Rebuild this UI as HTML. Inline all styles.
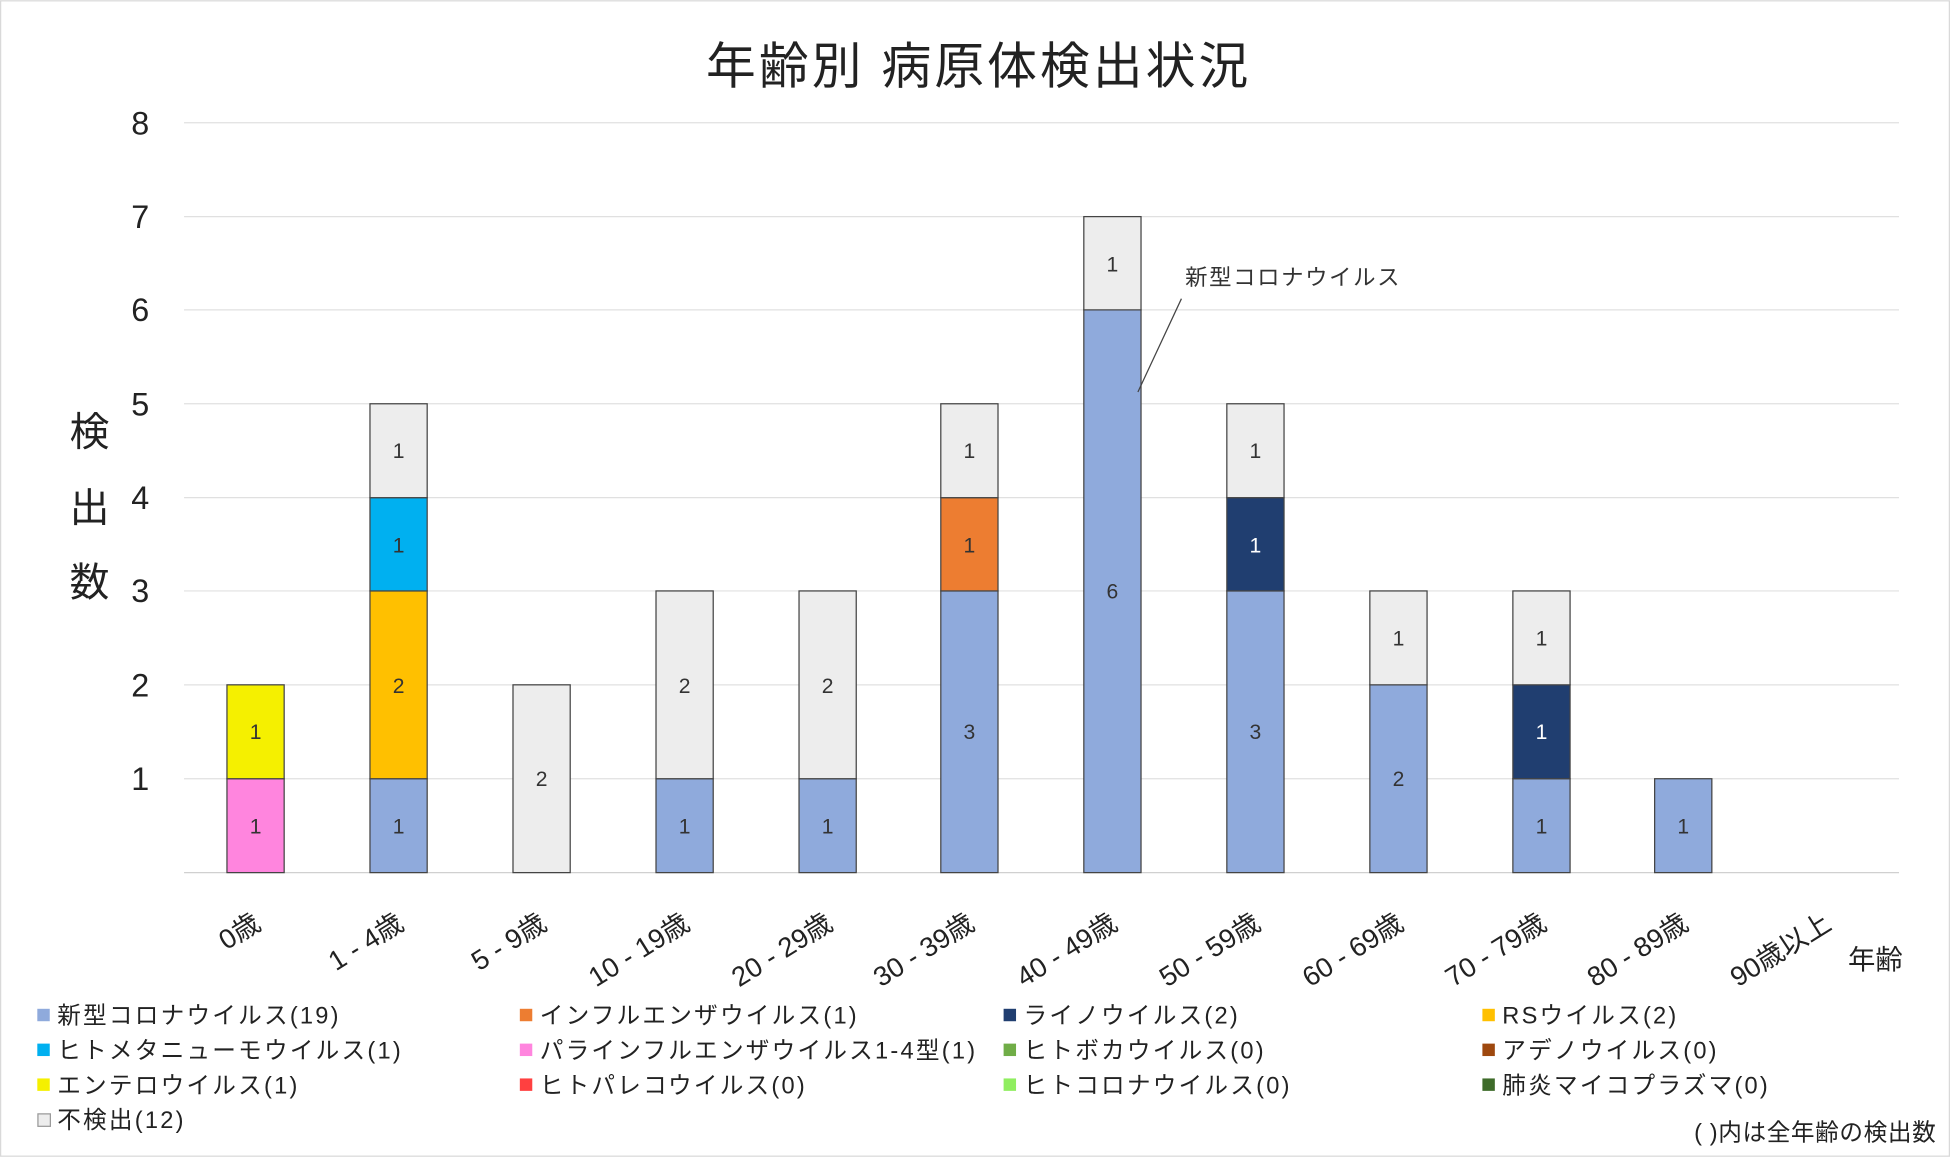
<!DOCTYPE html>
<html><head><meta charset="utf-8"><style>
html,body{margin:0;padding:0;background:#fff}
svg{display:block}
text{font-family:"Liberation Sans","Noto Sans CJK JP",sans-serif}
</style></head><body>
<svg width="1950" height="1157" viewBox="0 0 1568 930" xmlns="http://www.w3.org/2000/svg">
<rect x="0.5" y="0.5" width="1567" height="929" fill="#fff" stroke="#d9d9d9"/>
<text x="787" y="67" font-size="40" text-anchor="middle" fill="#222" letter-spacing="2.5">年齢別 病原体検出状況</text>
<g stroke="#e0e0e0" stroke-width="1">
<line x1="148" x2="1527" y1="98.5" y2="98.5"/><line x1="148" x2="1527" y1="174" y2="174"/>
<line x1="148" x2="1527" y1="249" y2="249"/><line x1="148" x2="1527" y1="324.5" y2="324.5"/>
<line x1="148" x2="1527" y1="400" y2="400"/><line x1="148" x2="1527" y1="475" y2="475"/>
<line x1="148" x2="1527" y1="550.5" y2="550.5"/><line x1="148" x2="1527" y1="626" y2="626"/>
</g>
<line x1="148" x2="1527" y1="701.5" y2="701.5" stroke="#d0d0d0"/>
<g font-size="26" fill="#222" text-anchor="end">
<text x="120" y="108">8</text><text x="120" y="183">7</text><text x="120" y="258">6</text>
<text x="120" y="334">5</text><text x="120" y="409">4</text><text x="120" y="484">3</text>
<text x="120" y="560">2</text><text x="120" y="635">1</text>
</g>
<g font-size="32" fill="#222" text-anchor="middle">
<text x="72" y="358">検</text><text x="72" y="419">出</text><text x="72" y="479">数</text>
</g>
<g stroke="#444" stroke-width="1">
<rect x="182.5" y="626" width="46" height="75.5" fill="#ff85de"/>
<rect x="182.5" y="550.5" width="46" height="75.5" fill="#f5f000"/>
<rect x="297.5" y="626" width="46" height="75.5" fill="#8faadc"/>
<rect x="297.5" y="475" width="46" height="151" fill="#ffc000"/>
<rect x="297.5" y="400" width="46" height="75" fill="#00b0f0"/>
<rect x="297.5" y="324.5" width="46" height="75.5" fill="#ededed"/>
<rect x="412.5" y="550.5" width="46" height="151" fill="#ededed"/>
<rect x="527.5" y="626" width="46" height="75.5" fill="#8faadc"/>
<rect x="527.5" y="475" width="46" height="151" fill="#ededed"/>
<rect x="642.5" y="626" width="46" height="75.5" fill="#8faadc"/>
<rect x="642.5" y="475" width="46" height="151" fill="#ededed"/>
<rect x="756.5" y="475" width="46" height="226.5" fill="#8faadc"/>
<rect x="756.5" y="400" width="46" height="75" fill="#ed7d31"/>
<rect x="756.5" y="324.5" width="46" height="75.5" fill="#ededed"/>
<rect x="871.5" y="249" width="46" height="452.5" fill="#8faadc"/>
<rect x="871.5" y="174" width="46" height="75" fill="#ededed"/>
<rect x="986.5" y="475" width="46" height="226.5" fill="#8faadc"/>
<rect x="986.5" y="400" width="46" height="75" fill="#203e70"/>
<rect x="986.5" y="324.5" width="46" height="75.5" fill="#ededed"/>
<rect x="1101.5" y="550.5" width="46" height="151" fill="#8faadc"/>
<rect x="1101.5" y="475" width="46" height="75.5" fill="#ededed"/>
<rect x="1216.5" y="626" width="46" height="75.5" fill="#8faadc"/>
<rect x="1216.5" y="550.5" width="46" height="75.5" fill="#203e70"/>
<rect x="1216.5" y="475" width="46" height="75.5" fill="#ededed"/>
<rect x="1330.5" y="626" width="46" height="75.5" fill="#8faadc"/>
</g>
<g font-size="17" text-anchor="middle" fill="#333">
<text x="205.5" y="670">1</text><text x="205.5" y="594">1</text>
<text x="320.5" y="670">1</text><text x="320.5" y="557">2</text><text x="320.5" y="444">1</text><text x="320.5" y="368">1</text>
<text x="435.5" y="632">2</text>
<text x="550.5" y="670">1</text><text x="550.5" y="557">2</text>
<text x="665.5" y="670">1</text><text x="665.5" y="557">2</text>
<text x="779.5" y="594">3</text><text x="779.5" y="444">1</text><text x="779.5" y="368">1</text>
<text x="894.5" y="481">6</text><text x="894.5" y="218">1</text>
<text x="1009.5" y="594">3</text><text x="1009.5" y="444" fill="#fff">1</text><text x="1009.5" y="368">1</text>
<text x="1124.5" y="632">2</text><text x="1124.5" y="519">1</text>
<text x="1239.5" y="670">1</text><text x="1239.5" y="594" fill="#fff">1</text><text x="1239.5" y="519">1</text>
<text x="1353.5" y="670">1</text>
</g>
<line x1="915" y1="315" x2="950" y2="240" stroke="#444"/>
<text x="953" y="229" font-size="18" fill="#333" letter-spacing="1.3">新型コロナウイルス</text>
<g font-size="22" fill="#222" text-anchor="end">
<text transform="translate(211,746) rotate(-32)">0歳</text>
<text transform="translate(326,746) rotate(-32)">1 - 4歳</text>
<text transform="translate(441,746) rotate(-32)">5 - 9歳</text>
<text transform="translate(556,746) rotate(-32)">10 - 19歳</text>
<text transform="translate(671,746) rotate(-32)">20 - 29歳</text>
<text transform="translate(785,746) rotate(-32)">30 - 39歳</text>
<text transform="translate(900,746) rotate(-32)">40 - 49歳</text>
<text transform="translate(1015,746) rotate(-32)">50 - 59歳</text>
<text transform="translate(1130,746) rotate(-32)">60 - 69歳</text>
<text transform="translate(1245,746) rotate(-32)">70 - 79歳</text>
<text transform="translate(1359,746) rotate(-32)">80 - 89歳</text>
<text transform="translate(1474,746) rotate(-32)">90歳以上</text>
</g>
<text x="1486" y="779" font-size="22" fill="#222">年齢</text>
<g font-size="19" fill="#222" letter-spacing="1.8">
<rect x="30" y="811" width="10" height="10" fill="#8faadc"/><text x="46" y="823">新型コロナウイルス(19)</text>
<rect x="418" y="811" width="10" height="10" fill="#ed7d31"/><text x="434" y="823">インフルエンザウイルス(1)</text>
<rect x="807" y="811" width="10" height="10" fill="#203e70"/><text x="823" y="823">ライノウイルス(2)</text>
<rect x="1192" y="811" width="10" height="10" fill="#ffc000"/><text x="1208" y="823">RSウイルス(2)</text>
<rect x="30" y="839" width="10" height="10" fill="#00b0f0"/><text x="46" y="851">ヒトメタニューモウイルス(1)</text>
<rect x="418" y="839" width="10" height="10" fill="#ff85de"/><text x="434" y="851">パラインフルエンザウイルス1-4型(1)</text>
<rect x="807" y="839" width="10" height="10" fill="#70ad47"/><text x="823" y="851">ヒトボカウイルス(0)</text>
<rect x="1192" y="839" width="10" height="10" fill="#9e480e"/><text x="1208" y="851">アデノウイルス(0)</text>
<rect x="30" y="867" width="10" height="10" fill="#f5f000"/><text x="46" y="879">エンテロウイルス(1)</text>
<rect x="418" y="867" width="10" height="10" fill="#ff4040"/><text x="434" y="879">ヒトパレコウイルス(0)</text>
<rect x="807" y="867" width="10" height="10" fill="#90ee60"/><text x="823" y="879">ヒトコロナウイルス(0)</text>
<rect x="1192" y="867" width="10" height="10" fill="#3e6b2a"/><text x="1208" y="879">肺炎マイコプラズマ(0)</text>
<rect x="30.5" y="895.5" width="10" height="10" fill="#ededed" stroke="#999"/><text x="46" y="907">不検出(12)</text>
<text x="1557" y="917" text-anchor="end" letter-spacing="0.5">( )内は全年齢の検出数</text>
</g>
</svg>
</body></html>
